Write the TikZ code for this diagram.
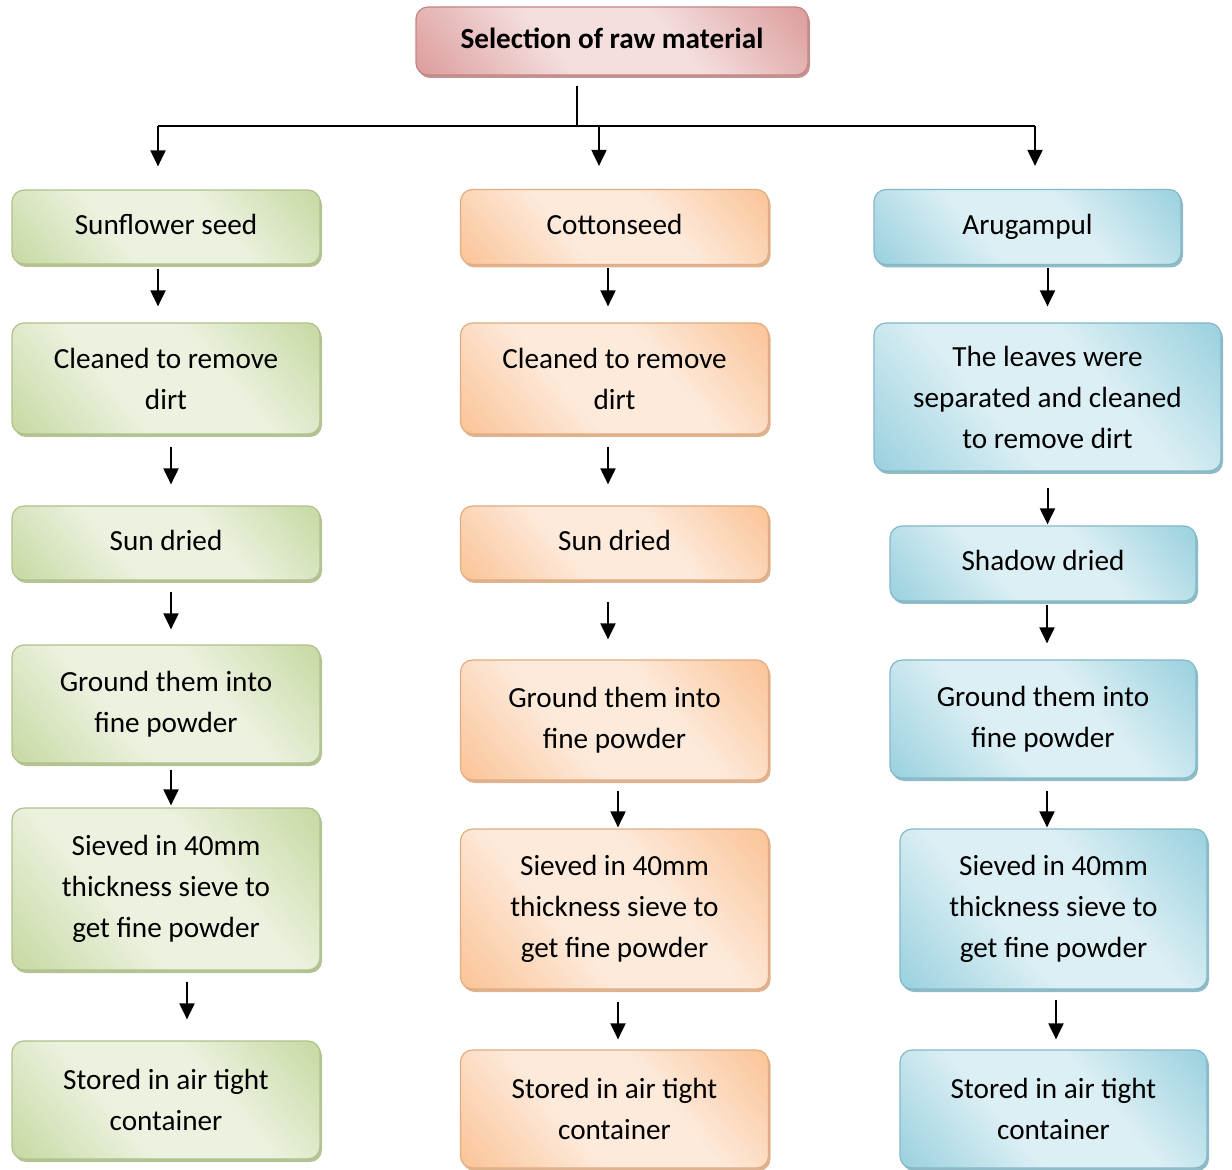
\documentclass[tikz,border=0pt]{standalone}
\usepackage{fontspec}
\setmainfont{Carlito}
\usepackage{tikz}
\usetikzlibrary{arrows.meta,shadows}

\definecolor{gdark}{RGB}{194,214,155}
\definecolor{glight}{RGB}{236,242,224}
\definecolor{gshade}{RGB}{160,180,120}
\definecolor{odark}{RGB}{250,191,143}
\definecolor{olight}{RGB}{253,234,219}
\definecolor{oshade}{RGB}{215,160,115}
\definecolor{bdark}{RGB}{146,205,220}
\definecolor{blight}{RGB}{220,239,244}
\definecolor{bshade}{RGB}{115,170,185}
\definecolor{rdark}{RGB}{217,149,148}
\definecolor{rlight}{RGB}{244,222,222}
\definecolor{rshade}{RGB}{180,120,120}

\colorlet{bandA}{gdark}
\colorlet{bandB}{glight}
\pgfdeclarehorizontalshading[bandA,bandB]{band}{100bp}{color(0bp)=(bandA); color(12bp)=(bandA);
  color(40bp)=(bandB); color(60bp)=(bandB); color(88bp)=(bandA); color(100bp)=(bandA)}

\tikzset{
  box/.style={rounded corners=6pt, line width=0.6pt, align=center, inner sep=0pt,
    font=\fontsize{14.6}{20.5}\selectfont, shade, shading=band, shading angle=40},
  gbox/.style={/utils/exec={\colorlet{bandA}{gdark}\colorlet{bandB}{glight}}, box, draw=gdark!90!black,
    drop shadow={shadow xshift=1pt, shadow yshift=-1.5pt, fill=gshade, opacity=0.8}},
  obox/.style={/utils/exec={\colorlet{bandA}{odark}\colorlet{bandB}{olight}}, box, draw=odark!90!black,
    drop shadow={shadow xshift=1pt, shadow yshift=-1.5pt, fill=oshade, opacity=0.8}},
  bbox/.style={/utils/exec={\colorlet{bandA}{bdark}\colorlet{bandB}{blight}}, box, draw=bdark!90!black,
    drop shadow={shadow xshift=1pt, shadow yshift=-1.5pt, fill=bshade, opacity=0.8}},
  rbox/.style={/utils/exec={\colorlet{bandA}{rdark}\colorlet{bandB}{rlight}}, box, draw=rdark!90!black,
    drop shadow={shadow xshift=1pt, shadow yshift=-1.5pt, fill=rshade, opacity=0.8}},
  oneline/.style={text depth=3pt},
  link/.style={line width=1pt},
  arr/.style={line width=1pt, -{Triangle[length=8pt,width=7.5pt]}, shorten <=2pt, shorten >=8pt}
}

\begin{document}
\begin{tikzpicture}[x=0.5pt, y=-0.5pt]
\useasboundingbox (0,0) rectangle (1232,1170);
\begin{scope}
\clip (0,0) rectangle (1232,1170);

% title
\node[rbox, oneline, minimum width=196pt, minimum height=34pt] (sel) at (612,41) {\textbf{Selection of raw material}};

% sunflower
\node[gbox, oneline, minimum width=154pt, minimum height=37pt] (g1) at (166,227) {Sunflower seed};
\node[gbox, minimum width=154pt, minimum height=55.5pt] (g2) at (166,378.5) {Cleaned to remove\\dirt};
\node[gbox, oneline, minimum width=154pt, minimum height=37pt] (g3) at (166,543) {Sun dried};
\node[gbox, minimum width=154pt, minimum height=59pt] (g4) at (166,704) {Ground them into\\fine powder};
\node[gbox, minimum width=154pt, minimum height=81pt] (g5) at (166,889) {Sieved in 40mm\\thickness sieve to\\get fine powder};
\node[gbox, minimum width=154pt, minimum height=59pt] (g6) at (166,1100) {Stored in air tight\\container};

% cottonseed
\node[obox, oneline, minimum width=154pt, minimum height=37.5pt] (o1) at (614.5,227) {Cottonseed};
\node[obox, minimum width=154pt, minimum height=55.5pt] (o2) at (614.5,378.5) {Cleaned to remove\\dirt};
\node[obox, oneline, minimum width=154pt, minimum height=37pt] (o3) at (614.5,543) {Sun dried};
\node[obox, minimum width=154pt, minimum height=60pt] (o4) at (614.5,720) {Ground them into\\fine powder};
\node[obox, minimum width=154pt, minimum height=80pt] (o5) at (614.5,909) {Sieved in 40mm\\thickness sieve to\\get fine powder};
\node[obox, minimum width=154pt, minimum height=59pt] (o6) at (614.5,1109) {Stored in air tight\\container};

% arugampul
\node[bbox, minimum width=153.5pt, minimum height=37.5pt] (b1) at (1027.5,227) {Arugampul};
\node[bbox, minimum width=173.5pt, minimum height=74pt] (b2) at (1047.5,397) {The leaves were\\separated and cleaned\\to remove dirt};
\node[bbox, oneline, minimum width=153pt, minimum height=37.5pt] (b3) at (1043,563.5) {Shadow dried};
\node[bbox, minimum width=153pt, minimum height=59pt] (b4) at (1043,719) {Ground them into\\fine powder};
\node[bbox, minimum width=153.5pt, minimum height=80pt] (b5) at (1053.5,909) {Sieved in 40mm\\thickness sieve to\\get fine powder};
\node[bbox, minimum width=153.5pt, minimum height=59pt] (b6) at (1053.5,1109) {Stored in air tight\\container};
\end{scope}

% split below the title
\coordinate (stemtop) at (577,86);
\coordinate (split) at (577,126);
\coordinate (lft) at (158,126);
\coordinate (mid) at (599,126);
\coordinate (rgt) at (1035,126);
\draw[link] (stemtop) -- (split);
\draw[link] (lft) -- (rgt);
\draw[arr, shorten <=0pt, shorten >=11.5pt] (lft) -- (g1.north -| lft);
\draw[arr, shorten <=0pt, shorten >=11.5pt] (mid) -- (o1.north -| mid);
\draw[arr, shorten <=0pt, shorten >=11.5pt] (rgt) -- (b1.north -| rgt);

% sunflower steps
\draw[arr] ([xshift=-4pt]g1.south) -- ([xshift=-4pt]g2.north);
\draw[arr, shorten <=6pt, shorten >=10.5pt] ([xshift=2.5pt]g2.south) -- ([xshift=2.5pt]g3.north);
\draw[arr, shorten <=5.5pt, shorten >=7.5pt] ([xshift=2.5pt]g3.south) -- ([xshift=2.5pt]g4.north);
\draw[arr, shorten <=3pt, shorten >=1pt] ([xshift=2.5pt]g4.south) -- ([xshift=2.5pt]g5.north);
\draw[arr, shorten <=5.5pt, shorten >=10.5pt] ([xshift=10.5pt]g5.south) -- ([xshift=10.5pt]g6.north);

% cottonseed steps
\draw[arr, shorten <=1.5pt] ([xshift=-3.25pt]o1.south) -- ([xshift=-3.25pt]o2.north);
\draw[arr, shorten <=6pt, shorten >=10.5pt] ([xshift=-3.25pt]o2.south) -- ([xshift=-3.25pt]o3.north);
\draw[arr, shorten <=10.5pt, shorten >=10pt] ([xshift=-3.25pt]o3.south) -- ([xshift=-3.25pt]o4.north);
\draw[arr, shorten <=5pt, shorten >=0.5pt] ([xshift=1.75pt]o4.south) -- ([xshift=1.75pt]o5.north);
\draw[arr, shorten <=6pt, shorten >=5pt] ([xshift=1.75pt]o5.south) -- ([xshift=1.75pt]o6.north);

% arugampul steps
\draw[arr, shorten <=1.5pt] (b1.south -| b2) -- (b2.north);
\draw[arr, shorten <=8pt, shorten >=0.5pt] (b2.south) -- (b2.south |- b3.north);
\draw[arr, shorten <=1.5pt] ([xshift=2pt]b3.south) -- ([xshift=2pt]b4.north);
\draw[arr, shorten <=6pt, shorten >=0.5pt] ([xshift=2pt]b4.south) -- ([xshift=-3.25pt]b5.north);
\draw[arr, shorten <=5pt, shorten >=5pt] ([xshift=1.25pt]b5.south) -- ([xshift=1.25pt]b6.north);
\end{tikzpicture}
\end{document}
